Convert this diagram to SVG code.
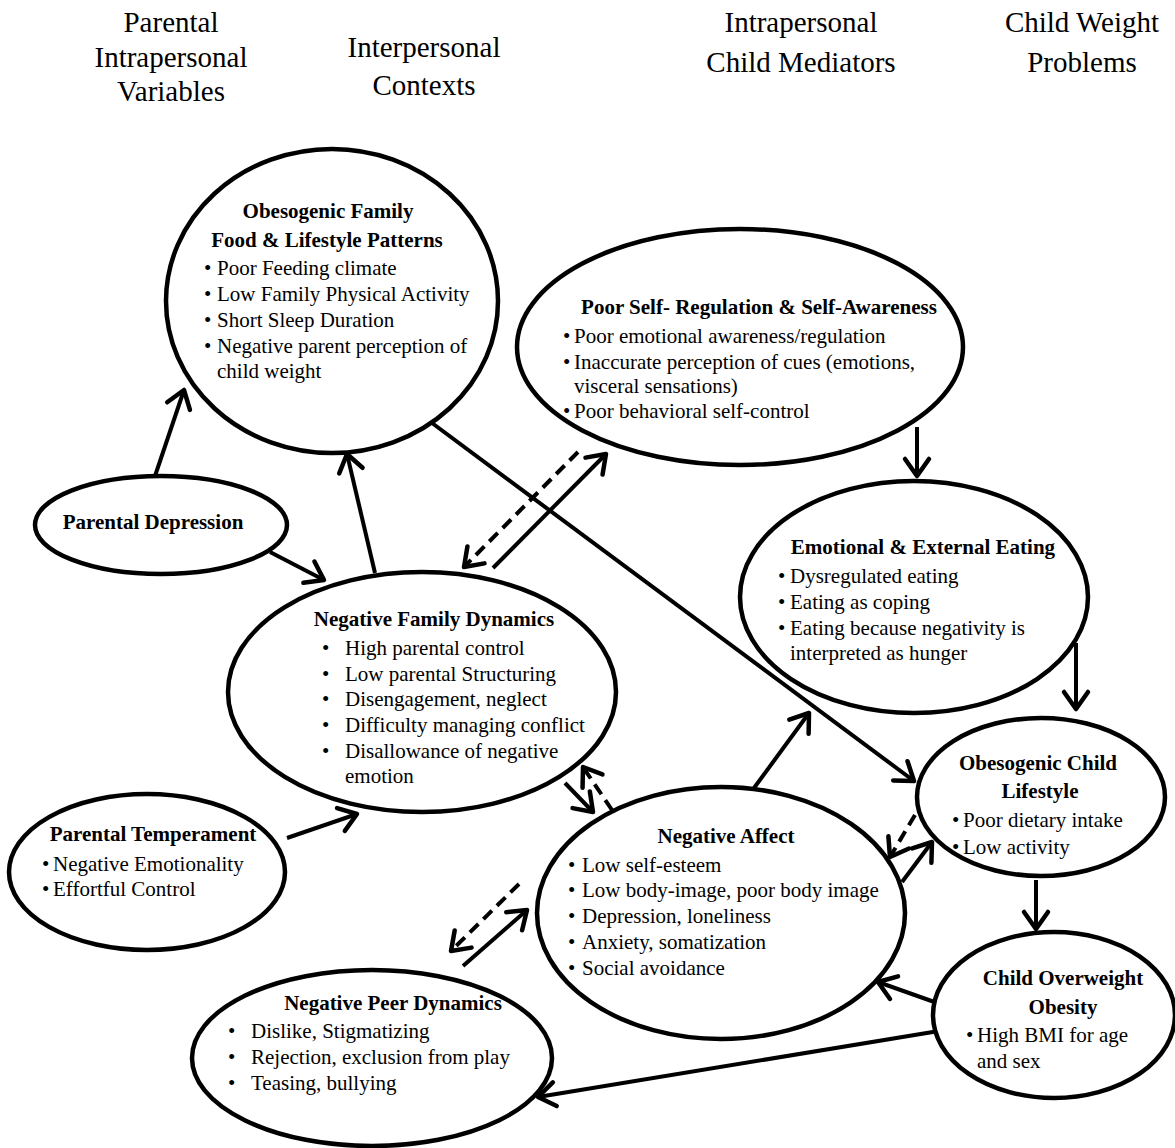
<svg xmlns="http://www.w3.org/2000/svg" width="1175" height="1148" viewBox="0 0 1175 1148">
<style>
.hd{font-family:"Liberation Serif","Times New Roman",serif;font-size:29px;text-anchor:middle;fill:#000}
.t{font-family:"Liberation Serif","Times New Roman",serif;font-size:21px;font-weight:bold;text-anchor:middle;fill:#000}
.b{font-family:"Liberation Serif","Times New Roman",serif;font-size:21px;fill:#000}
.e{fill:#fff;stroke:#000;stroke-width:4.5}
.c{fill:none;stroke:#000;stroke-width:4;marker-end:url(#ah)}
.d{fill:none;stroke:#000;stroke-width:4;stroke-dasharray:12 7;marker-end:url(#ah)}
</style>
<defs>
<marker id="ah" viewBox="-24 -16 28 32" refX="0" refY="0" markerWidth="28" markerHeight="32" markerUnits="userSpaceOnUse" orient="auto">
<path d="M-17,-12 L0,0 L-17,12" fill="none" stroke="#000" stroke-width="4.5" stroke-linecap="round" stroke-linejoin="round"/>
</marker>
</defs>
<rect width="1175" height="1148" fill="#fff"/>
<g id="headers">
<text class="hd" x="171" y="32">Parental</text>
<text class="hd" x="171" y="67">Intrapersonal</text>
<text class="hd" x="171" y="101">Variables</text>
<text class="hd" x="424" y="57">Interpersonal</text>
<text class="hd" x="424" y="95">Contexts</text>
<text class="hd" x="801" y="32">Intrapersonal</text>
<text class="hd" x="801" y="72">Child Mediators</text>
<text class="hd" x="1082" y="32">Child Weight</text>
<text class="hd" x="1082" y="72">Problems</text>
</g>
<g id="connectors">
<path class="c" d="M155,476 L184,390"/>
<path class="c" d="M270,552 L324,580"/>
<path class="c" d="M375,573 L347,454"/>
<path class="c" d="M432,423 L914,781"/>
<path class="c" d="M493,568 L606,454"/>
<path class="d" d="M578,452 L464,567"/>
<path class="c" d="M917,427 L917,476"/>
<path class="c" d="M1076,643 L1076,709"/>
<path class="c" d="M754,788 L809,713"/>
<path class="c" d="M565,783 L593,812"/>
<path class="d" d="M612,810 L583,767"/>
<path class="d" d="M915,815 L890,857"/>
<path class="c" d="M902,882 L932,842"/>
<path class="c" d="M1036,880 L1036,929"/>
<path class="c" d="M940,1004 L878,982"/>
<path class="c" d="M945,1030 L538,1097"/>
<path class="c" d="M287,838 L357,814"/>
<path class="d" d="M519,884 L451,951"/>
<path class="c" d="M463,966 L527,910"/>
</g>
<g id="obesogenic-family">
<ellipse class="e" cx="332" cy="301" rx="166" ry="152"/>
<text class="t" x="328" y="218">Obesogenic Family</text>
<text class="t" x="327" y="247">Food &amp; Lifestyle Patterns</text>
<text class="b" x="204" y="275">•</text><text class="b" x="217" y="275">Poor Feeding climate</text>
<text class="b" x="204" y="301">•</text><text class="b" x="217" y="301">Low Family Physical Activity</text>
<text class="b" x="204" y="327">•</text><text class="b" x="217" y="327">Short Sleep Duration</text>
<text class="b" x="204" y="353">•</text><text class="b" x="217" y="353">Negative parent perception of</text>
<text class="b" x="217" y="378">child weight</text>
</g>
<g id="self-regulation">
<ellipse class="e" cx="740" cy="347" rx="223" ry="118"/>
<text class="t" x="759" y="314">Poor Self- Regulation &amp; Self-Awareness</text>
<text class="b" x="563" y="343">•</text><text class="b" x="574" y="343">Poor emotional awareness/regulation</text>
<text class="b" x="563" y="369">•</text><text class="b" x="574" y="369">Inaccurate perception of cues (emotions,</text>
<text class="b" x="574" y="393">visceral sensations)</text>
<text class="b" x="563" y="418">•</text><text class="b" x="574" y="418">Poor behavioral self-control</text>
</g>
<g id="parental-depression">
<ellipse class="e" cx="161" cy="525" rx="126" ry="49"/>
<text class="t" x="153" y="529">Parental Depression</text>
</g>
<g id="family-dynamics">
<ellipse class="e" cx="422" cy="692" rx="194" ry="120"/>
<text class="t" x="434" y="626">Negative Family Dynamics</text>
<text class="b" x="322" y="655">•</text><text class="b" x="345" y="655">High parental control</text>
<text class="b" x="322" y="681">•</text><text class="b" x="345" y="681">Low parental Structuring</text>
<text class="b" x="322" y="706">•</text><text class="b" x="345" y="706">Disengagement, neglect</text>
<text class="b" x="322" y="732">•</text><text class="b" x="345" y="732">Difficulty managing conflict</text>
<text class="b" x="322" y="758">•</text><text class="b" x="345" y="758">Disallowance of negative</text>
<text class="b" x="345" y="783">emotion</text>
</g>
<g id="emotional-eating">
<ellipse class="e" cx="914" cy="597" rx="174" ry="116"/>
<text class="t" x="923" y="554">Emotional &amp; External Eating</text>
<text class="b" x="778" y="583">•</text><text class="b" x="790" y="583">Dysregulated eating</text>
<text class="b" x="778" y="609">•</text><text class="b" x="790" y="609">Eating as coping</text>
<text class="b" x="778" y="635">•</text><text class="b" x="790" y="635">Eating because negativity is</text>
<text class="b" x="790" y="660">interpreted as hunger</text>
</g>
<g id="child-lifestyle">
<ellipse class="e" cx="1041" cy="797" rx="124" ry="79"/>
<text class="t" x="1038" y="770">Obesogenic Child</text>
<text class="t" x="1040" y="798">Lifestyle</text>
<text class="b" x="952" y="827">•</text><text class="b" x="963" y="827">Poor dietary intake</text>
<text class="b" x="952" y="854">•</text><text class="b" x="963" y="854">Low activity</text>
</g>
<g id="child-overweight">
<ellipse class="e" cx="1054" cy="1015" rx="121" ry="83"/>
<text class="t" x="1063" y="985">Child Overweight</text>
<text class="t" x="1063" y="1014">Obesity</text>
<text class="b" x="966" y="1042">•</text><text class="b" x="977" y="1042">High BMI for age</text>
<text class="b" x="977" y="1068">and sex</text>
</g>
<g id="negative-affect">
<ellipse class="e" cx="721" cy="913" rx="184" ry="126"/>
<text class="t" x="726" y="843">Negative Affect</text>
<text class="b" x="568" y="872">•</text><text class="b" x="582" y="872">Low self-esteem</text>
<text class="b" x="568" y="897">•</text><text class="b" x="582" y="897">Low body-image, poor body image</text>
<text class="b" x="568" y="923">•</text><text class="b" x="582" y="923">Depression, loneliness</text>
<text class="b" x="568" y="949">•</text><text class="b" x="582" y="949">Anxiety, somatization</text>
<text class="b" x="568" y="975">•</text><text class="b" x="582" y="975">Social avoidance</text>
</g>
<g id="parental-temperament">
<ellipse class="e" cx="147" cy="872" rx="138" ry="78"/>
<text class="t" x="153" y="841">Parental Temperament</text>
<text class="b" x="42" y="871">•</text><text class="b" x="53" y="871">Negative Emotionality</text>
<text class="b" x="42" y="896">•</text><text class="b" x="53" y="896">Effortful Control</text>
</g>
<g id="peer-dynamics">
<ellipse class="e" cx="372" cy="1058" rx="180" ry="88"/>
<text class="t" x="393" y="1010">Negative Peer Dynamics</text>
<text class="b" x="228" y="1038">•</text><text class="b" x="251" y="1038">Dislike, Stigmatizing</text>
<text class="b" x="228" y="1064">•</text><text class="b" x="251" y="1064">Rejection, exclusion from play</text>
<text class="b" x="228" y="1090">•</text><text class="b" x="251" y="1090">Teasing, bullying</text>
</g>
</svg>
